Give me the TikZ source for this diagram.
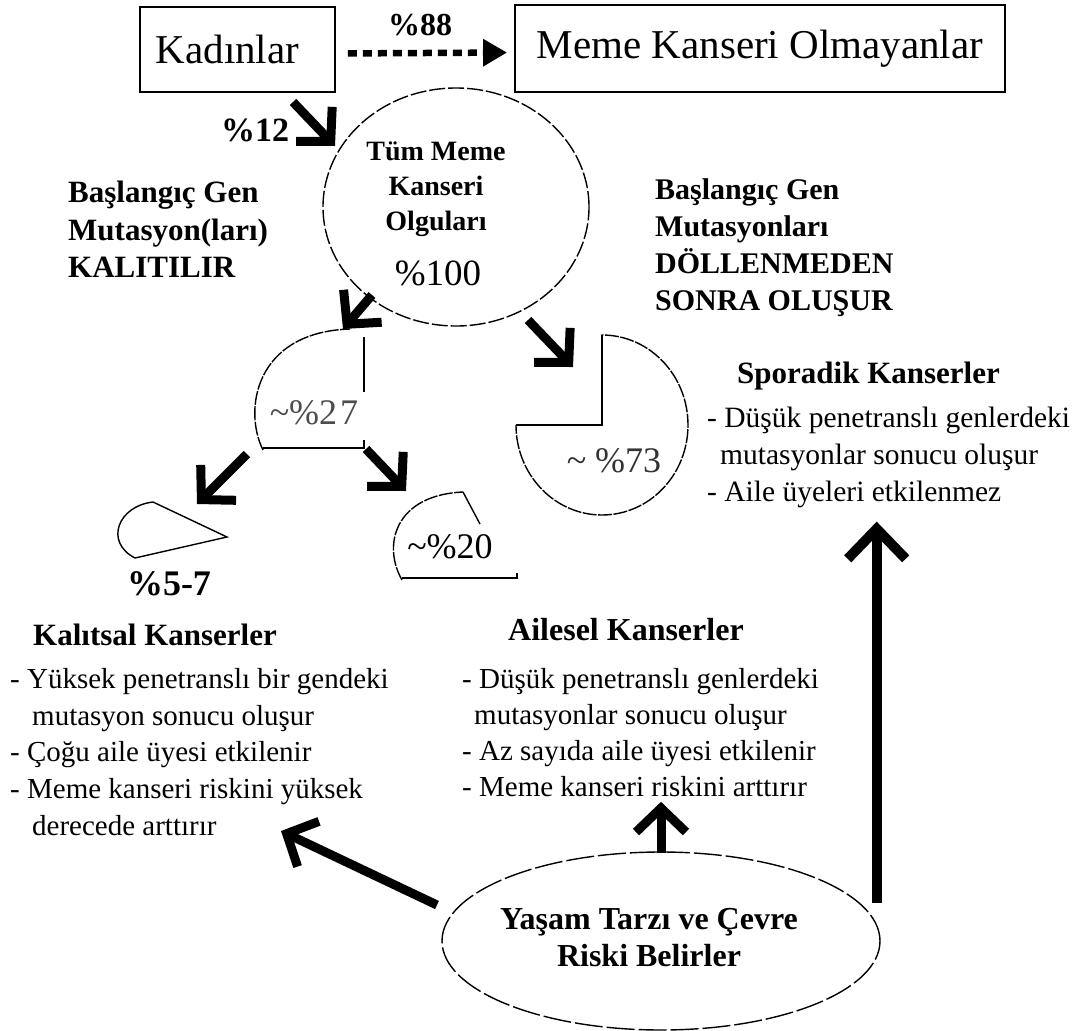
\documentclass[tikz,border=0pt]{standalone}
\usepackage{fontspec}
\setmainfont{Liberation Serif}
\usetikzlibrary{arrows.meta,shapes.geometric}

\tikzset{
  every node/.style={inner sep=0pt},
  topbox/.style={draw, line width=1.8pt, font=\fontsize{41}{44}\selectfont},
  listtxt/.style={font=\fontsize{29.5}{36.7}\selectfont, align=left, anchor=north west},
  headtxt/.style={font=\bfseries\fontsize{31}{37}\selectfont, align=left},
  pct/.style={font=\fontsize{36}{40}\selectfont},
  boldpct/.style={font=\bfseries\fontsize{34}{38}\selectfont},
  pieline/.style={line width=1.4pt},
  piearc/.style={line width=1.4pt, dash pattern=on 14pt off 1.5pt},
  fatarrow/.style={line width=9pt, -{Straight Barb[length=24pt,width=50pt]}},
  dotarrow/.style={line width=6.5pt, dash pattern=on 9pt off 6pt, -{Triangle[length=24pt,width=26pt]}}
}

\begin{document}
\begin{tikzpicture}[x=1pt,y=-1pt]
    \useasboundingbox (0,0) rectangle (1077,1031);

    % top row
    \node[topbox, minimum width=195, minimum height=85] (kadin) at (237.5,49.5) {Kadınlar\hspace*{20pt}};
    \node[topbox, minimum width=490, minimum height=87] (olmayan) at (760,48.5) {Meme Kanseri Olmayanlar};
    \draw[dotarrow, shorten <=12pt, shorten >=7pt] ([yshift=-4pt]kadin.east) -- ([yshift=-4pt]olmayan.west);
    \node[boldpct, font=\bfseries\fontsize{32}{36}\selectfont] (p88) at (420,25) {\%88};

    % all cases
    \node[draw, ellipse, line width=1.4pt, dash pattern=on 16pt off 3pt, minimum width=266, minimum height=238] (tum) at (456,207) {};
    \node[headtxt, align=center, anchor=north, font=\bfseries\fontsize{28}{35}\selectfont] (tumlbl) at (436,142) {Tüm Meme\\Kanseri\\Olguları};
    \node[pct, anchor=base, font=\fontsize{37}{40}\selectfont] (p100) at (438,285) {\%100};
    \node[boldpct] (p12) at (255,130) {\%12};
    \coordinate (a12s) at (293,102);
    \coordinate (a12t) at (335,146);
    \draw[fatarrow] (a12s) -- (a12t);

    \node[headtxt, anchor=north west, font=\bfseries\fontsize{31}{37.5}\selectfont] (inh) at (68,181) {Başlangıç Gen\\Mutasyon(ları)\\KALITILIR};
    \node[headtxt, anchor=north west, font=\bfseries\fontsize{30}{37}\selectfont] (som) at (655,178) {Başlangıç Gen\\Mutasyonları\\DÖLLENMEDEN\\SONRA OLUŞUR};

    % ~%27
    \draw[piearc] (263,450) .. controls (243,410) and (255,332) .. (350,329);
    \draw[pieline] (364,337) -- (364,392);
    \draw[pieline] (364,440) -- (364,448) -- (263,448);
    \node[pct, text=black!70] (p27) at (314,413) {\textasciitilde\%2\hspace{3pt}7};
    \coordinate (a27s) at (372,295);
    \coordinate (a27t) at (343,329);
    \draw[fatarrow] (a27s) -- (a27t);

    % ~%73
    \draw[piearc] (602,425) -- (602,335) arc[start angle=-90, end angle=180, x radius=86, y radius=90];
    \draw[pieline] (602,335) -- (602,425) -- (516,425);
    \node[pct, text=black!80] (p73) at (614,461) {\textasciitilde{} \%73};
    \coordinate (a73s) at (528,320);
    \coordinate (a73t) at (573,367);
    \draw[fatarrow] (a73s) -- (a73t);

    % %5-7
    \draw[pieline] (227,537) -- (153,502) .. controls (118,506) and (104,542) .. (135,558) -- cycle;
    \node[boldpct, font=\bfseries\fontsize{36}{40}\selectfont] (p57) at (169,584) {\%5-7};
    \coordinate (a57s) at (247,454);
    \coordinate (a57t) at (197,504);
    \draw[fatarrow] (a57s) -- (a57t);

    % ~%20
    \draw[piearc] (402,580) .. controls (382,545) and (395,495) .. (463,492);
    \draw[pieline] (463,492) -- (480,524);
    \draw[pieline] (402,578) -- (517,578) -- (517,573);
    \node[pct] (p20) at (450,547) {\textasciitilde\%20};
    \coordinate (a20s) at (366,449);
    \coordinate (a20t) at (406,491);
    \draw[fatarrow] (a20s) -- (a20t);

    % three groups
    \node[headtxt, anchor=base west] (spor) at (737,383) {Sporadik Kanserler};
    \node[listtxt] (sportxt) at (707,407) {- Düşük penetranslı genlerdeki\\\hspace*{13pt}mutasyonlar sonucu oluşur\\- Aile üyeleri etkilenmez};

    \node[headtxt, anchor=base west] (kal) at (33,645) {Kalıtsal Kanserler};
    \node[listtxt, font=\fontsize{29}{36.7}\selectfont] (kaltxt) at (10,668) {- Yüksek penetranslı bir gendeki\\\hspace*{22pt}mutasyon sonucu oluşur\\- Çoğu aile üyesi etkilenir\\- Meme kanseri riskini yüksek\\\hspace*{22pt}derecede arttırır};

    \node[headtxt, anchor=base west, font=\bfseries\fontsize{32}{37}\selectfont] (ail) at (508,640) {Ailesel Kanserler};
    \node[listtxt, font=\fontsize{29}{36}\selectfont] (ailtxt) at (462,668) {- Düşük penetranslı genlerdeki\\\hspace*{12pt}mutasyonlar sonucu oluşur\\- Az sayıda aile üyesi etkilenir\\- Meme kanseri riskini arttırır};

    % life style
    \node[draw, ellipse, line width=1.4pt, dash pattern=on 28pt off 4pt, minimum width=438, minimum height=178] (life) at (661,941) {};
    \node[align=center, font=\bfseries\fontsize{32}{37}\selectfont] (lifelbl) at (649,938) {Yaşam Tarzı ve Çevre\\Riski Belirler};
    \draw[fatarrow, shorten >=5pt] ([yshift=-2pt]life.north) -- (life.north |- ailtxt.south);
    \coordinate (barfoot) at ([xshift=-4pt,yshift=38pt]life.east);
    \draw[line width=10pt, -{Straight Barb[length=30pt,width=58pt]}, shorten >=14pt] (barfoot) -- (barfoot |- sportxt.south);
    \coordinate (kals) at (437,905);
    \coordinate (kalt) at (281,831);
    \draw[fatarrow] (kals) -- (kalt);
\end{tikzpicture}
\end{document}
